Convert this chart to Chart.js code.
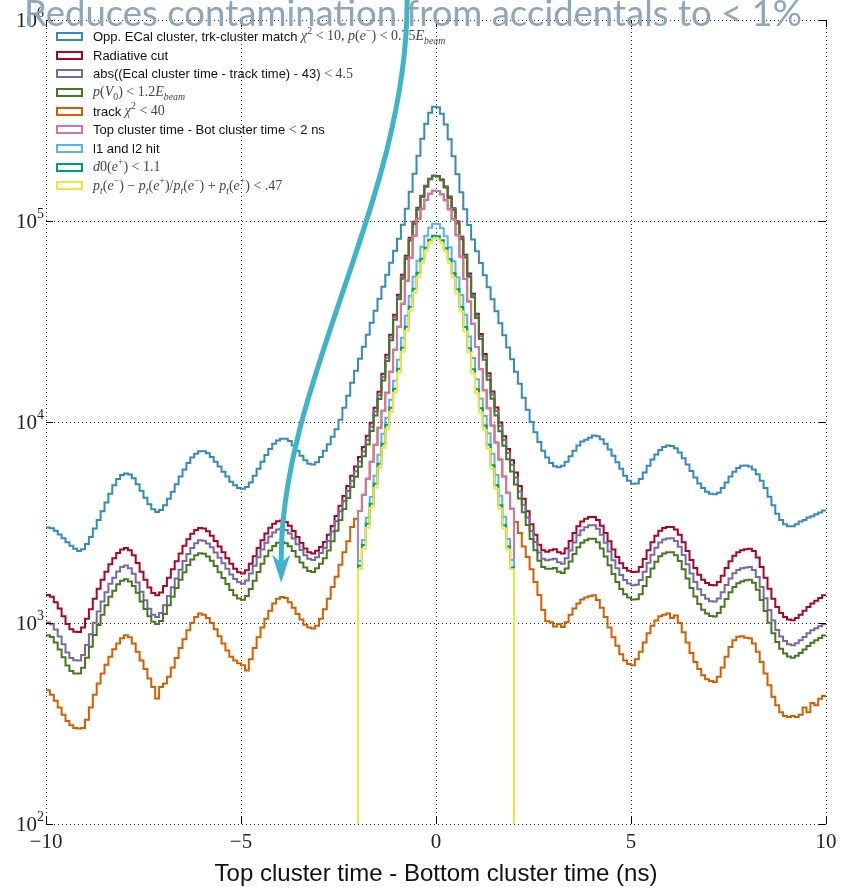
<!DOCTYPE html>
<html lang="en">
<head>
<meta charset="UTF-8">
<title>Top cluster time - Bottom cluster time</title>
<script src="https://cdn.jsdelivr.net/npm/chart.js@4.4.1/dist/chart.umd.min.js"></script>
<style>
    body { margin: 0; background: #fff; }
    .quadro { position: relative; width: 846px; height: 887px; overflow: hidden; }
    #grafico, #sobreposicao { position: absolute; left: 0; top: 0; }
    #sobreposicao { pointer-events: none; }
    .legenda { position: absolute; left: 56px; top: 27px; font-family: 'Liberation Sans', Arial, sans-serif; font-size: 13px; color: #111; }
    .legenda div { height: 18.7px; white-space: nowrap; display: flex; align-items: center; }
    .legenda .caixa { display: inline-block; flex: 0 0 27px; width: 27px; height: 9px; box-sizing: border-box; border: 2px solid; margin-right: 10px; background: #fff; }
    .m { font-family: 'Liberation Serif', 'DejaVu Serif', serif; color: #444; font-size: 14px; }
    .m i { font-style: italic; }
    .m sub, .m sup { font-size: 70%; line-height: 0; }
</style>
</head>
<body>
<div class="quadro">
    <canvas id="grafico" width="846" height="887"></canvas>
    <div class="legenda">
        <div><span class="caixa" style="border-color:#348ABD"></span>Opp. ECal cluster, trk-cluster match&nbsp;<span class="m"><i>χ</i><sup>2</sup> &lt; 10, <i>p</i>(<i>e</i><sup>−</sup>) &lt; 0.75<i>E</i><sub><i>beam</i></sub></span></div>
        <div><span class="caixa" style="border-color:#A60628"></span>Radiative cut</div>
        <div><span class="caixa" style="border-color:#7A68A6"></span>abs((Ecal cluster time - track time) - 43)&nbsp;<span class="m">&lt; 4.5</span></div>
        <div><span class="caixa" style="border-color:#467821"></span><span class="m"><i>p</i>(<i>V</i><sub>0</sub>) &lt; 1.2<i>E</i><sub><i>beam</i></sub></span></div>
        <div><span class="caixa" style="border-color:#D55E00"></span>track&nbsp;<span class="m"><i>χ</i><sup>2</sup> &lt; 40</span></div>
        <div><span class="caixa" style="border-color:#CC79A7"></span>Top cluster time - Bot cluster time&nbsp;<span class="m">&lt;</span>&nbsp;2 ns</div>
        <div><span class="caixa" style="border-color:#56B4E9"></span>l1 and l2 hit</div>
        <div><span class="caixa" style="border-color:#009E73"></span><span class="m"><i>d</i>0(<i>e</i><sup>+</sup>) &lt; 1.1</span></div>
        <div><span class="caixa" style="border-color:#F0E442"></span><span class="m"><i>p<sub>t</sub></i>(<i>e</i><sup>−</sup>) − <i>p<sub>t</sub></i>(<i>e</i><sup>+</sup>)/<i>p<sub>t</sub></i>(<i>e</i><sup>−</sup>) + <i>p<sub>t</sub></i>(<i>e</i><sup>+</sup>) &lt; .47</span></div>
    </div>
    <canvas id="sobreposicao" width="846" height="887"></canvas>
</div>

<script>
    // bins de 0.1 ns
    const LARGURA = 0.1;
    const FUNDO = 1; // abaixo do eixo, para as quedas verticais em +-2 ns

    const ticksX = [-10, -5, 0, 5, 10];
    const rotulosX = ['\u221210', '\u22125', '0', '5', '10'];
    const ticksY = [1e2, 1e3, 1e4, 1e5, 1e6];
    const expoentesY = ['2', '3', '4', '5', '6'];

    // -10 a 10 ns (200 bins)
    const serieOpp = [
        2990, 2960, 2880, 2760, 2640, 2520, 2420, 2340, 2280, 2330,
        2470, 2680, 2950, 3250, 3600, 3980, 4400, 4850, 5200, 5450,
        5550, 5480, 5250, 4900, 4550, 4200, 3900, 3680, 3570, 3650,
        3850, 4150, 4500, 4900, 5350, 5800, 6250, 6650, 6950, 7150,
        7160, 7000, 6700, 6350, 6000, 5650, 5350, 5050, 4850, 4700,
        4650, 4750, 5000, 5400, 5850, 6350, 6850, 7350, 7800, 8100,
        8250, 8250, 8050, 7650, 7200, 6800, 6450, 6200, 6150, 6300,
        6700, 7200, 7750, 8450, 9200, 10260, 11770, 13500, 15670, 17980,
        20630, 23670, 27160, 31170, 35770, 41040, 47100, 54000, 62000, 71100,
        81660, 95850, 115100, 139900, 172000, 211300, 256800, 305000, 345900, 370700,
        368000, 342000, 302000, 255000, 210000, 171000, 139000, 114500, 95500, 81000,
        70800, 61800, 53700, 46800, 40800, 35600, 31000, 27000, 23500, 20500,
        17800, 15500, 13200, 11500, 10000, 8900, 7950, 7200, 6650, 6250,
        6020, 5960, 6050, 6350, 6750, 7200, 7650, 8000, 8150, 8350,
        8570, 8500, 8200, 7800, 7300, 6800, 6300, 5850, 5400, 5100,
        4930, 4950, 5200, 5600, 6050, 6500, 6900, 7250, 7500, 7640,
        7600, 7400, 7050, 6600, 6150, 5700, 5300, 4950, 4700, 4500,
        4400, 4365, 4450, 4700, 5000, 5350, 5650, 5900, 6050, 6080,
        6000, 5800, 5500, 5100, 4700, 4250, 3850, 3500, 3250, 3100,
        3030, 3025, 3100, 3200, 3250, 3350, 3400, 3480, 3550, 3630
    ];
    const serieRadiativo = [
        1380, 1350, 1270, 1180, 1080, 990, 930, 905, 903, 950,
        1050, 1170, 1320, 1480, 1640, 1800, 1960, 2100, 2230, 2320,
        2360, 2300, 2170, 1990, 1800, 1640, 1500, 1410, 1374, 1420,
        1530, 1680, 1850, 2030, 2220, 2420, 2610, 2780, 2900, 2967,
        2950, 2860, 2720, 2560, 2400, 2250, 2100, 1970, 1860, 1790,
        1762, 1830, 1970, 2150, 2360, 2580, 2790, 2980, 3120, 3210,
        3240, 3180, 3050, 2870, 2680, 2500, 2350, 2250, 2214, 2285,
        2390, 2530, 2745, 3040, 3410, 3830, 4290, 4810, 5400, 6000,
        6700, 7500, 8540, 9910, 11770, 14140, 17380, 21600, 27160, 34170,
        42980, 54000, 67190, 82580, 99200, 116500, 133700, 149900, 162400, 168100,
        167500, 161000, 148500, 132500, 115800, 99800, 83500, 68000, 54800, 43500,
        34600, 27400, 21800, 17500, 14200, 11800, 9950, 8500, 7350, 6450,
        5600, 4800, 4150, 3600, 3100, 2750, 2450, 2300, 2260, 2300,
        2330, 2250, 2214, 2350, 2560, 2800, 3030, 3200, 3300, 3366,
        3366, 3250, 3050, 2800, 2550, 2320, 2130, 1980, 1880, 1820,
        1794, 1800, 1900, 2080, 2300, 2520, 2720, 2880, 2970, 3000,
        3000, 2920, 2750, 2520, 2280, 2060, 1880, 1740, 1640, 1580,
        1545, 1540, 1600, 1720, 1880, 2030, 2160, 2250, 2300, 2330,
        2344, 2280, 2120, 1900, 1680, 1480, 1320, 1200, 1120, 1070,
        1040, 1032, 1060, 1100, 1150, 1200, 1250, 1290, 1330, 1374
    ];
    const serieAbs = [
        1007, 986, 927, 856, 783, 713, 670, 652, 650, 694,
        777, 878, 1003, 1140, 1279, 1422, 1568, 1680, 1806, 1902,
        1935, 1875, 1758, 1592, 1431, 1296, 1178, 1100, 1072, 1122,
        1224, 1361, 1508, 1665, 1843, 2033, 2205, 2363, 2494, 2581,
        2567, 2488, 2380, 2240, 2112, 1980, 1859, 1743, 1655, 1593,
        1568, 1629, 1763, 1924, 2124, 2322, 2511, 2697, 2824, 2921,
        2948, 2903, 2791, 2635, 2466, 2308, 2174, 2088, 2059, 2125,
        2227, 2363, 2569, 2852, 3205, 3600, 4041, 4541, 5108, 5690,
        6365, 7140, 8147, 9474, 11276, 13574, 16737, 20866, 26318, 33213,
        41906, 52812, 65913, 81259, 97910, 115335, 132630, 149001, 161750, 167764,
        167165, 160356, 147609, 131440, 114642, 98602, 82331, 66912, 53814, 42630,
        33804, 26688, 21168, 16940, 13703, 11352, 9542, 8126, 7005, 6128,
        5290, 4510, 3880, 3350, 2870, 2530, 2240, 2090, 2050, 2070,
        2085, 2003, 1970, 2099, 2294, 2517, 2733, 2896, 2993, 3060,
        3063, 2941, 2745, 2506, 2270, 2053, 1874, 1733, 1636, 1574,
        1543, 1548, 1638, 1797, 1992, 2187, 2366, 2514, 2602, 2634,
        2640, 2555, 2393, 2180, 1961, 1761, 1598, 1470, 1378, 1319,
        1282, 1278, 1325, 1421, 1547, 1665, 1767, 1834, 1870, 1887,
        1899, 1835, 1696, 1511, 1327, 1162, 1030, 924, 857, 813,
        785, 774, 793, 820, 853, 888, 919, 942, 964, 989
    ];
    const serieV0 = [
        869, 851, 800, 738, 675, 614, 577, 561, 560, 599,
        672, 761, 871, 977, 1099, 1224, 1352, 1449, 1561, 1624,
        1652, 1610, 1530, 1413, 1278, 1173, 1080, 1015, 989, 1022,
        1109, 1226, 1351, 1492, 1643, 1791, 1944, 2071, 2175, 2225,
        2213, 2145, 2040, 1920, 1788, 1676, 1565, 1458, 1376, 1325,
        1304, 1363, 1478, 1623, 1794, 1974, 2148, 2295, 2418, 2504,
        2527, 2493, 2410, 2279, 2136, 2000, 1889, 1816, 1793, 1874,
        1972, 2100, 2292, 2554, 2881, 3256, 3689, 4185, 4752, 5340,
        5997, 6750, 7729, 9018, 10770, 13009, 16094, 20131, 25476, 32256,
        40831, 51624, 64637, 79937, 96621, 114170, 131561, 148101, 161101, 167260,
        166328, 159390, 146570, 130248, 113368, 97305, 81079, 65756, 52772, 41760,
        32939, 25866, 20405, 16240, 13064, 10762, 8995, 7616, 6527, 5676,
        4890, 4160, 3560, 3070, 2620, 2300, 2040, 1900, 1860, 1860,
        1876, 1800, 1771, 1868, 2022, 2204, 2379, 2506, 2577, 2625,
        2625, 2519, 2349, 2142, 1938, 1752, 1598, 1475, 1391, 1338,
        1310, 1314, 1391, 1529, 1695, 1865, 2018, 2146, 2219, 2250,
        2250, 2175, 2035, 1852, 1664, 1494, 1354, 1244, 1164, 1114,
        1082, 1078, 1120, 1204, 1316, 1421, 1512, 1575, 1610, 1631,
        1641, 1585, 1463, 1303, 1146, 1003, 890, 804, 745, 706,
        681, 671, 687, 710, 739, 768, 798, 820, 842, 866
    ];
    const serieTrack = [
        463, 440, 410, 380, 350, 325, 310, 300, 299, 300,
        330, 380, 440, 500, 560, 620, 680, 740, 790, 840,
        869, 850, 790, 720, 650, 590, 530, 480, 421, 480,
        500, 540, 600, 670, 750, 830, 920, 1000, 1070, 1114,
        1100, 1060, 1000, 930, 860, 790, 730, 680, 650, 630,
        617, 580, 660, 750, 850, 950, 1050, 1150, 1250, 1320,
        1348, 1330, 1270, 1190, 1110, 1040, 980, 950, 938, 970,
        1050, 1170, 1320, 1511, 1700, 1950, 2250, 2550, 3000, 3300,
        3610, 4340, 5220, 6340, 7700, 9360, 11370, 13980, 17780, 22880,
        29780, 38750, 50470, 65660, 84500, 102700, 115100, 127600, 136700, 141500,
        141000, 136000, 127000, 114500, 102000, 85000, 66500, 51500, 39800, 30800,
        23600, 18300, 14400, 11700, 9600, 7900, 6500, 5350, 4450, 3700,
        3178, 2800, 2400, 2130, 1850, 1600, 1380, 1160, 1020, 1010,
        960, 990, 956, 1010, 1100, 1180, 1250, 1310, 1340, 1360,
        1374, 1300, 1190, 1070, 950, 850, 770, 700, 650, 625,
        617, 660, 720, 800, 890, 970, 1030, 1080, 1100, 1114,
        1060, 1090, 1000, 900, 800, 710, 640, 590, 550, 525,
        515, 509, 540, 600, 680, 760, 820, 855, 860, 845,
        840, 790, 720, 640, 560, 490, 430, 390, 360, 345,
        341, 345, 341, 350, 380, 360, 400, 390, 420, 433
    ];
    // -2 a 2 ns (40 bins)
    const serieTempo = [
        3610, 4340, 5220, 6340, 7700, 9360, 11370, 13980, 17780, 22880,
        29780, 38750, 50470, 65660, 84500, 102700, 115100, 127600, 136700, 141500,
        141000, 136000, 127000, 114500, 102000, 85000, 66500, 51500, 39800, 30800,
        23600, 18300, 14400, 11700, 9600, 7900, 6500, 5350, 4450, 3700
    ];
    const serieL1L2 = [
        2040, 2590, 3335, 4240, 5400, 6870, 8740, 10490, 12900, 16040,
        20400, 26250, 33780, 42480, 52800, 63450, 74500, 84500, 92620, 96960,
        96500, 92000, 84000, 74000, 63000, 52500, 42800, 34200, 26600, 20800,
        16300, 13100, 10700, 8800, 6950, 5450, 4300, 3380, 2620, 2060
    ];
    const serieD0 = [
        1924, 2447, 3114, 3916, 4925, 6190, 7790, 9685, 11770, 14630,
        18400, 23400, 29780, 37450, 46030, 55290, 64930, 73640, 80700, 84500,
        84000, 80200, 73200, 64500, 55000, 45800, 37300, 29700, 23300, 18300,
        14550, 11700, 9600, 7700, 6100, 4850, 3850, 3060, 2400, 1890
    ];
    const seriePt = [
        1859, 2338, 2975, 3741, 4705, 5916, 7440, 9250, 11240, 13980,
        17580, 22360, 28440, 35770, 43950, 52800, 62000, 71100, 77980, 81660,
        81200, 77500, 70700, 61600, 52400, 43600, 35500, 28200, 22200, 17450,
        13900, 11150, 9150, 7350, 5850, 4650, 3700, 2950, 2320, 1850
    ];

    const series = [
        { inicio: -10, valores: serieOpp, cor: '#348ABD' },
        { inicio: -10, valores: serieRadiativo, cor: '#A60628' },
        { inicio: -10, valores: serieAbs, cor: '#7A68A6' },
        { inicio: -10, valores: serieV0, cor: '#467821' },
        { inicio: -10, valores: serieTrack, cor: '#D55E00' },
        { inicio: -2, valores: serieTempo, cor: '#CC79A7' },
        { inicio: -2, valores: serieL1L2, cor: '#56B4E9' },
        { inicio: -2, valores: serieD0, cor: '#009E73' },
        { inicio: -2, valores: seriePt, cor: '#F0E442' }
    ];

    // seta curva (coordenadas de dados)
    const setaX = [-0.74, -0.72, -3.97, -3.97];
    const setaY = [1.26e6, 1.28e5, 1.62e4, 2.06e3];
    const pontaSeta = [-3.97, 1585];

    function degraus(inicio, valores) {
        // bordas esquerdas dos bins + borda final (histograma em degrau)
        const pts = valores.map((v, i) => ({ x: +(inicio + i * LARGURA).toFixed(2), y: v }));
        const fim = +(inicio + valores.length * LARGURA).toFixed(2);
        pts.push({ x: fim, y: valores[valores.length - 1] });
        if (inicio > -10) {
            pts.unshift({ x: inicio, y: FUNDO });
            pts.push({ x: fim, y: FUNDO });
        }
        return pts;
    }

    const datasets = series.map((s, k) => ({
        data: degraus(s.inicio, s.valores),
        borderColor: s.cor,
        borderWidth: 2,
        pointRadius: 0,
        fill: false,
        stepped: 'before',
        order: series.length - 1 - k
    }));

    const rotulos = {
        id: 'rotulos',
        afterDraw(chart) {
            const ctx = chart.ctx;
            const x = chart.scales.x, y = chart.scales.y, a = chart.chartArea;
            ctx.save();
            // marcas para dentro
            ctx.strokeStyle = '#000';
            ctx.lineWidth = 1;
            ctx.beginPath();
            ticksX.forEach(v => {
                const px = Math.round(x.getPixelForValue(v)) + 0.5;
                ctx.moveTo(px, a.bottom); ctx.lineTo(px, a.bottom - 7);
                ctx.moveTo(px, a.top); ctx.lineTo(px, a.top + 7);
            });
            ticksY.forEach(v => {
                const py = Math.round(y.getPixelForValue(v)) + 0.5;
                ctx.moveTo(a.left, py); ctx.lineTo(a.left + 7, py);
                ctx.moveTo(a.right, py); ctx.lineTo(a.right - 7, py);
            });
            ctx.stroke();

            ctx.fillStyle = '#222';
            ctx.font = '21px "Liberation Serif"';
            ctx.textAlign = 'center';
            ctx.textBaseline = 'alphabetic';
            ticksX.forEach((v, i) => ctx.fillText(rotulosX[i], x.getPixelForValue(v), a.bottom + 24));

            ticksY.forEach((v, i) => {
                const py = y.getPixelForValue(v);
                ctx.font = '14px "Liberation Serif"';
                ctx.textAlign = 'right';
                const w = ctx.measureText(expoentesY[i]).width;
                ctx.fillText(expoentesY[i], a.left - 2, py - 3);
                ctx.font = '21px "Liberation Serif"';
                ctx.fillText('10', a.left - 2 - w, py + 7);
            });

            ctx.font = '24px "Liberation Sans"';
            ctx.textAlign = 'center';
            ctx.fillStyle = '#111';
            ctx.fillText('Top cluster time - Bottom cluster time (ns)', (a.left + a.right) / 2, 881);
            ctx.restore();

            desenharSobreposicao(chart);
        }
    };

    function desenharSobreposicao(chart) {
        const c = document.getElementById('sobreposicao').getContext('2d');
        const x = chart.scales.x, y = chart.scales.y;
        c.clearRect(0, 0, 846, 887);

        // titulo cortado no topo
        c.fillStyle = '#8DA6BA';
        c.font = '36.5px Lato';
        c.textBaseline = 'alphabetic';
        c.fillText('Reduces contamination from accidentals to < 1%', 24, 26);

        const p = setaX.map((v, i) => [x.getPixelForValue(v), y.getPixelForValue(setaY[i])]);
        const cor = '#3FB3C8';
        c.strokeStyle = cor;
        c.lineWidth = 5;
        c.lineCap = 'round';
        c.beginPath();
        c.moveTo(p[0][0], p[0][1]);
        c.bezierCurveTo(p[1][0], p[1][1], p[2][0], p[2][1], p[3][0], p[3][1]);
        c.stroke();

        const tx = x.getPixelForValue(pontaSeta[0]), ty = y.getPixelForValue(pontaSeta[1]);
        c.fillStyle = cor;
        c.beginPath();
        c.moveTo(tx, ty);
        c.lineTo(tx - 9, ty - 28);
        c.lineTo(tx, ty - 20);
        c.lineTo(tx + 9, ty - 28);
        c.closePath();
        c.fill();
    }

    const config = {
        type: 'line',
        data: { datasets: datasets },
        options: {
            responsive: false,
            animation: false,
            layout: { padding: { top: 20, right: 20, left: 0, bottom: 0 } },
            plugins: { legend: { display: false }, tooltip: { enabled: false } },
            scales: {
                x: {
                    type: 'linear', min: -10, max: 10,
                    afterBuildTicks: s => { s.ticks = ticksX.map(v => ({ value: v })); },
                    afterFit: s => { s.height = 63; },
                    ticks: { display: false },
                    grid: { color: '#222', lineWidth: 1, drawTicks: false },
                    border: { display: false, dash: [1, 3] }
                },
                y: {
                    type: 'logarithmic', min: 100, max: 1000000,
                    afterBuildTicks: s => { s.ticks = ticksY.map(v => ({ value: v })); },
                    afterFit: s => { s.width = 46; },
                    ticks: { display: false },
                    grid: { color: '#222', lineWidth: 1, drawTicks: false },
                    border: { display: false, dash: [1, 3] }
                }
            }
        },
        plugins: [rotulos]
    };

    let meuGrafico = new Chart(document.getElementById('grafico'), config);
</script>
</body>
</html>
